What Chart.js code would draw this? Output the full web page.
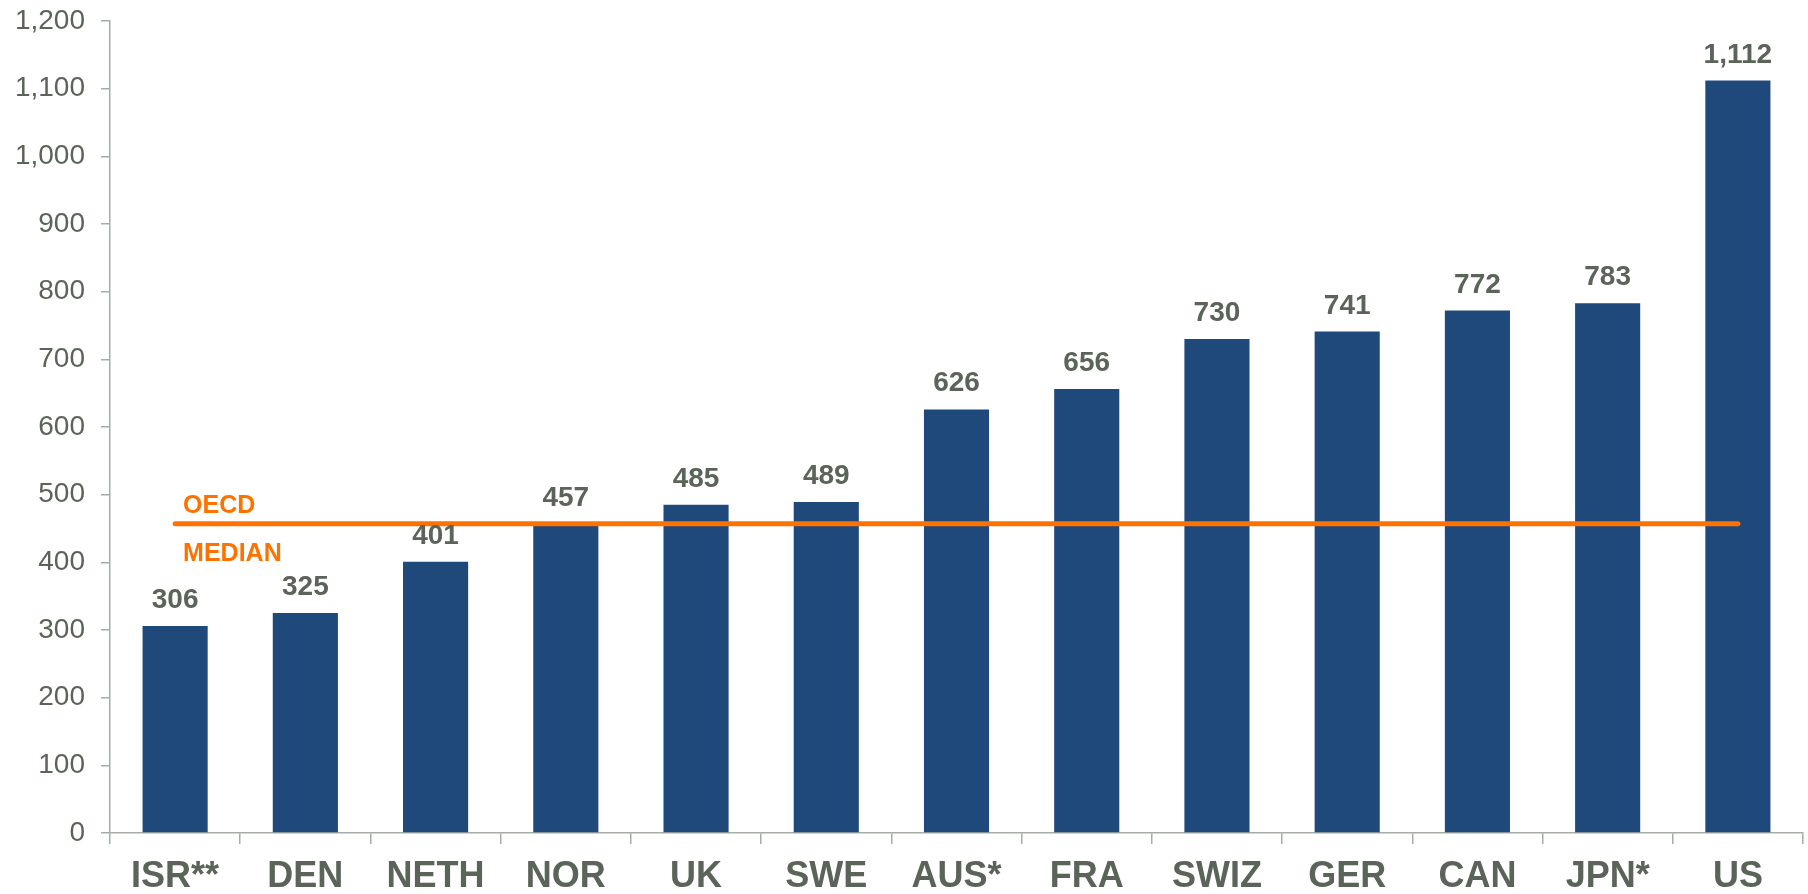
<!DOCTYPE html>
<html>
<head>
<meta charset="utf-8">
<script src="https://cdn.jsdelivr.net/npm/chart.js@4.4.1/dist/chart.umd.min.js"></script>
<style>
  html, body { margin: 0; padding: 0; background: #fff; }
  #wrap { width: 1808px; height: 894px; }
</style>
</head>
<body>
<div id="wrap"><canvas id="chart" width="1808" height="894"></canvas></div>
<script>
/* ── Dati ─────────────────────────────────────────── */
var countries = ['ISR**', 'DEN', 'NETH', 'NOR', 'UK', 'SWE', 'AUS*', 'FRA', 'SWIZ', 'GER', 'CAN', 'JPN*', 'US'];
var values    = [306, 325, 401, 457, 485, 489, 626, 656, 730, 741, 772, 783, 1112];
var median    = 457;
var medianLabel = ['OECD', 'MEDIAN'];
var yTicks    = [0, 100, 200, 300, 400, 500, 600, 700, 800, 900, 1000, 1100, 1200];

var GRAY   = '#5a6458';
var AXIS   = '#a5ada5';
var BLUE   = '#1f487b';
var ORANGE = '#ff7200';
var FONT   = '"Liberation Sans", Arial, sans-serif';

/* ── Etichette valori + testo mediana ─────────────── */
var labelsPlugin = {
  id: 'valueLabels',
  afterDatasetsDraw: function(chart) {
    var ctx = chart.ctx;
    var meta = chart.getDatasetMeta(0);
    ctx.save();
    ctx.fillStyle = GRAY;
    ctx.font = 'bold 28px ' + FONT;
    ctx.textAlign = 'center';
    ctx.textBaseline = 'alphabetic';
    meta.data.forEach(function(bar, i) {
      ctx.fillText(values[i].toLocaleString('en-US'), bar.x, bar.y - 18);
    });

    var yPix = chart.scales.y.getPixelForValue(median);
    var x0 = meta.data[0].x + 8;
    ctx.fillStyle = ORANGE;
    ctx.font = 'bold 25px ' + FONT;
    ctx.textAlign = 'left';
    ctx.fillText(medianLabel[0], x0, yPix - 11);
    ctx.fillText(medianLabel[1], x0, yPix + 37);
    ctx.restore();
  }
};

new Chart(document.getElementById('chart'), {
  data: {
    labels: countries,
    datasets: [
      {
        type: 'bar',
        data: values,
        backgroundColor: BLUE,
        borderWidth: 0,
        barPercentage: 1,
        categoryPercentage: 0.5,
        order: 2
      },
      {
        type: 'line',
        data: countries.map(function() { return median; }),
        borderColor: ORANGE,
        borderWidth: 5,
        borderCapStyle: 'round',
        pointRadius: 0,
        fill: false,
        order: 1
      }
    ]
  },
  plugins: [labelsPlugin],
  options: {
    responsive: false,
    animation: false,
    layout: { padding: { top: 21, right: 5, bottom: 0, left: 0 } },
    plugins: { legend: { display: false }, tooltip: { enabled: false } },
    scales: {
      x: {
        offset: true,
        afterFit: function(scale) { scale.height = 61; },
        grid: {
          offset: true,
          drawOnChartArea: false,
          color: AXIS,
          tickLength: 11,
          lineWidth: 1.5
        },
        border: { color: AXIS, width: 1.5 },
        ticks: {
          color: GRAY,
          padding: 11,
          font: { family: FONT, size: 36, weight: 'bold' },
          maxRotation: 0
        }
      },
      y: {
        min: 0,
        max: 1200,
        afterBuildTicks: function(scale) {
          scale.ticks = yTicks.map(function(v) { return { value: v }; });
        },
        afterFit: function(scale) {
          scale.width = 110;
          scale.paddingTop = 0;
          scale.paddingBottom = 0;
        },
        grid: {
          drawOnChartArea: false,
          color: AXIS,
          tickLength: 9,
          lineWidth: 1.5
        },
        border: { color: AXIS, width: 1.5 },
        ticks: {
          color: GRAY,
          padding: 16,
          font: { family: FONT, size: 28 },
          callback: function(v) { return Number(v).toLocaleString('en-US'); }
        }
      }
    }
  }
});
</script>
</body>
</html>
